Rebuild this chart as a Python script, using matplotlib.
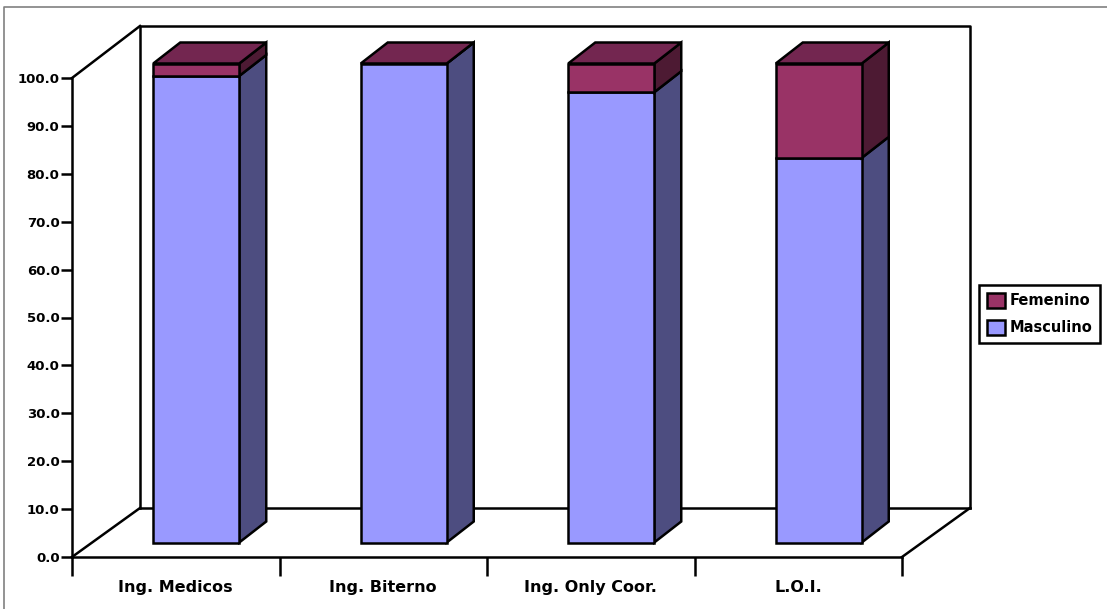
import matplotlib
matplotlib.use('Agg')
import matplotlib.pyplot as plt
from matplotlib.patches import Polygon, Patch
from matplotlib.lines import Line2D
import numpy as np

categories = ['Ing. Medicos', 'Ing. Biterno', 'Ing. Only Coor.', 'L.O.I.']
masculino = [97.4, 100.0, 94.0, 80.3]
femenino = [2.6, 0.0, 6.0, 19.7]
y_ticks = [0, 10, 20, 30, 40, 50, 60, 70, 80, 90, 100]

W, H = 1107, 609
LW = 1.8

# colours of the front, side and top faces
c_m, c_m_side = '#9999FF', '#4D4D80'
c_f, c_f_side, c_f_top = '#993366', '#4D1A33', '#732650'

fig = plt.figure(figsize=(W / 100, H / 100), dpi=100, facecolor='white')
ax = fig.add_axes([72 / W, (H - 557) / H, 830 / W, 479 / H])
ax.set_xlim(0, 4)
ax.set_ylim(0, 100)
ax.patch.set_visible(False)

# depth of the 3d box and of the bars, in data units
box_dx, box_dy = 68 / 207.5, 49 / 4.79
wall_top = 100 + 52 / 4.79
gap_dx, gap_dy = 20.5 / 207.5, 14.5 / 4.79
bar_dx, bar_dy = 27 / 207.5, 21 / 4.79
bar_w = 86 / 207.5


def line(xs, ys, z=1):
    ax.plot(xs, ys, color='black', lw=LW, clip_on=False, zorder=z, solid_capstyle='projecting')


# back wall and floor edges
line([box_dx, box_dx, 4 + box_dx, 4 + box_dx], [box_dy, wall_top, wall_top, box_dy])
line([box_dx, 4 + box_dx], [box_dy, box_dy])
line([0, box_dx], [100, wall_top])
line([0, box_dx], [0, box_dy])
line([4, 4 + box_dx], [0, box_dy])


def face(pts, color, z):
    # bars sit a little behind the front plane
    pts = [(px, py + gap_dy) for px, py in pts]
    ax.add_patch(Polygon(pts, closed=True, facecolor=color, edgecolor='black', lw=LW,
                         clip_on=False, zorder=z, joinstyle='miter'))


def segment(x0, y0, y1, front, side, top=None, z=3):
    x1 = x0 + bar_w
    face([(x1, y0), (x1 + bar_dx, y0 + bar_dy), (x1 + bar_dx, y1 + bar_dy), (x1, y1)], side, z)
    if top is not None:
        face([(x0, y1), (x0 + bar_dx, y1 + bar_dy), (x1 + bar_dx, y1 + bar_dy), (x1, y1)], top, z)
    if y1 > y0:
        face([(x0, y0), (x1, y0), (x1, y1), (x0, y1)], front, z + 0.5)


for i, (m, f) in enumerate(zip(masculino, femenino)):
    x0 = i + 0.5 - bar_w / 2 + gap_dx
    segment(x0, 0, m, c_m, c_m_side, z=3)
    segment(x0, m, m + f, c_f, c_f_side, c_f_top, z=4)

ax.spines['top'].set_visible(False)
ax.spines['right'].set_visible(False)
for s in ['left', 'bottom']:
    ax.spines[s].set_linewidth(LW)

ax.set_yticks(y_ticks)
ax.set_yticklabels(['%.1f' % v for v in y_ticks])
ax.set_xticks(np.arange(5))
ax.set_xticklabels([])
ax.set_xticks(np.arange(4) + 0.5, minor=True)
ax.set_xticklabels(categories, minor=True)
ax.tick_params(axis='y', length=8, width=LW, pad=1, labelsize=9.5)
ax.tick_params(axis='x', which='major', length=14, width=LW)
ax.tick_params(axis='x', which='minor', length=0, pad=16.5, labelsize=11.5)
for t in ax.get_yticklabels() + ax.get_xticklabels(minor=True):
    t.set_fontweight('bold')

# legend on the right
handles = [Patch(facecolor=c_f, edgecolor='black', lw=LW, label='Femenino'),
           Patch(facecolor=c_m, edgecolor='black', lw=LW, label='Masculino')]
leg = fig.legend(handles=handles, loc='center left', bbox_to_anchor=(979 / W, (H - 314) / H),
                 fancybox=False, framealpha=1, edgecolor='black', borderaxespad=0,
                 handlelength=1.2, handleheight=1.2, handletextpad=0.35, labelspacing=0.8,
                 borderpad=0.55, prop={'size': 10.5, 'weight': 'bold'})
leg.get_frame().set_linewidth(LW)

# chart area border
fig.add_artist(Line2D([4 / W, 4 / W, 1], [0, (H - 7) / H, (H - 7) / H], color='#808080', lw=1.2))

fig.savefig('out.png', dpi=100)
